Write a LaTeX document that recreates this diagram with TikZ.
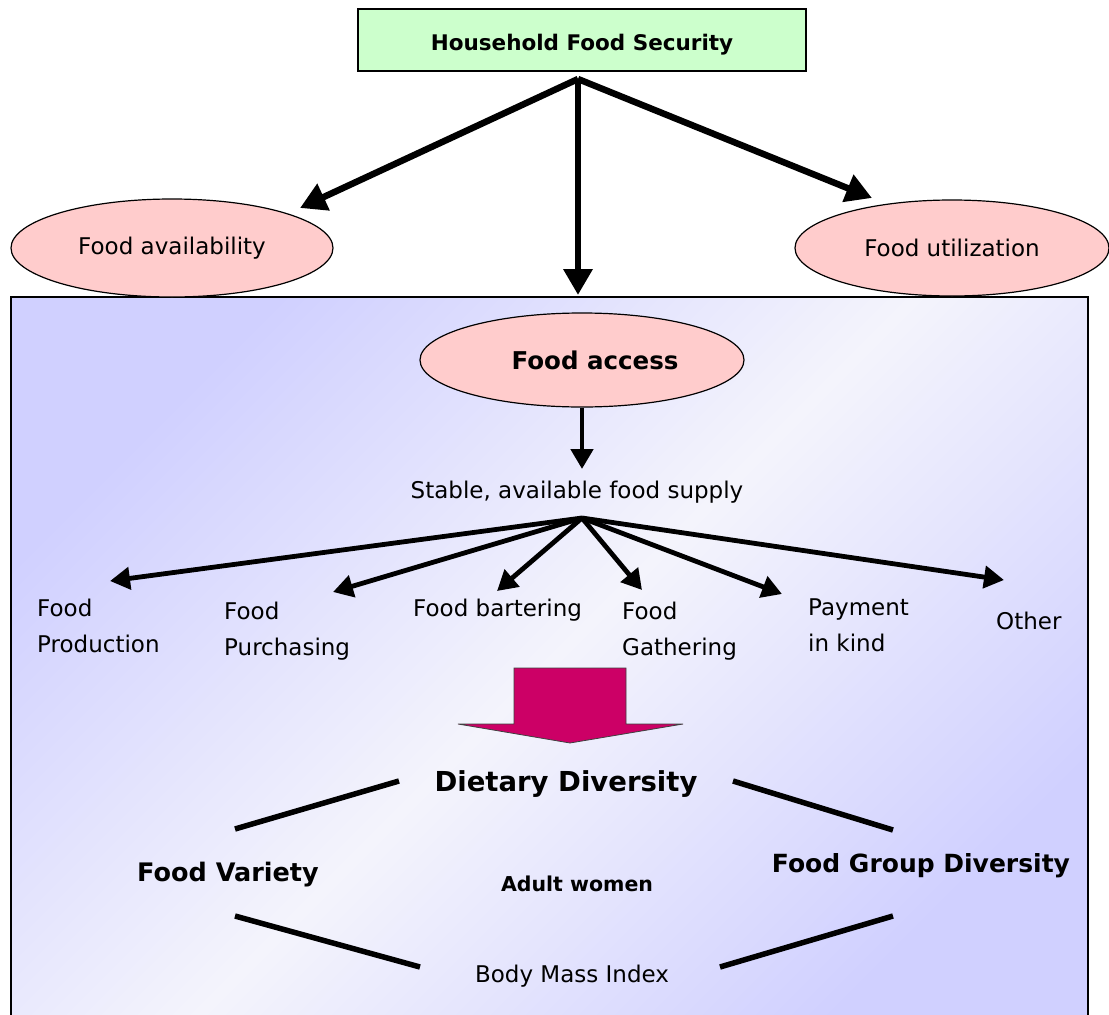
\documentclass[tikz,border=0pt]{standalone}
\usepackage{fontspec}
\setmainfont{DejaVu Sans}
\usetikzlibrary{shapes.geometric,arrows.meta}
\definecolor{hfsgreen}{RGB}{204,255,204}
\definecolor{ovalpink}{RGB}{255,204,204}
\definecolor{boxblue}{RGB}{208,208,255}
\definecolor{boxlight}{RGB}{244,244,252}
\definecolor{blockmag}{RGB}{204,0,102}
\begin{document}
\begin{tikzpicture}[x=1pt,y=-1pt,
  oval/.style={ellipse, draw=black, line width=1.2pt, fill=ovalpink, inner sep=0pt},
  bigarrow/.style={line width=6.5pt, -{Triangle[length=26pt,width=28pt]}},
  fanarrow/.style={line width=4.8pt, -{Triangle[length=20pt,width=22pt]}},
  link/.style={line width=5.5pt},
  lbl/.style={font=\fontsize{23}{36}\selectfont, inner sep=0pt, align=left, anchor=north west},
  plain/.style={font=\fontsize{23}{28}\selectfont, inner sep=0pt},
  boldtxt/.style={font=\fontsize{#1}{#1}\selectfont\bfseries, inner sep=0pt}
]
\useasboundingbox (0,0) rectangle (1109,1015);
\fill[white] (0,0) rectangle (1109,1015);

% big shaded box
\shade[top color=boxblue, bottom color=boxblue, middle color=boxlight, shading angle=45]
  (11,297) rectangle (1088,1030);
\draw[line width=1.2pt] (11,1030) -- (11,297) -- (1088,297) -- (1088,1030);

% top box
\node[draw=black, line width=1.2pt, fill=hfsgreen, minimum width=448pt, minimum height=62pt,
      boldtxt=21.5, text depth=0pt] (hfs) at (582,40) {\raisebox{-4pt}{Household Food Security}};

% ellipses
\node[oval, minimum width=322pt, minimum height=98pt, plain] (avail) at (172,248) {Food availability};
\node[oval, minimum width=314pt, minimum height=96pt, plain] (util) at (952,248) {Food utilization};
\node[oval, minimum width=324pt, minimum height=94pt, boldtxt=24.5] (acc) at (582,360) {\hspace*{26pt}Food access};

% top arrows
\coordinate (hub) at (578,79);
\coordinate (accIn) at (578,295);
\draw[bigarrow] (hub) -- (300,208);
\draw[bigarrow] (hub) -- (872,198);
\draw[bigarrow] (hub) -- (accIn);

% supply
\node[plain] (supply) at (577,492) {Stable, available food supply};
\coordinate (supplyIn) at (582,469);
\draw[fanarrow] (acc.south -| supplyIn) -- (supplyIn);

% fan
\coordinate (fan) at (582,518);
\node[lbl] (prod) at (37,599) {Food\\Production};
\node[lbl] (purch) at (224,602) {Food\\Purchasing};
\node[lbl] (barter) at (413,599) {Food bartering};
\node[lbl] (gath) at (622,602) {Food\\Gathering};
\node[lbl] (pay) at (808,599) {Payment\\in kind};
\node[lbl] (other) at (996,612) {Other};
\coordinate (tProd) at (110,581);
\coordinate (tPurch) at (333,592);
\coordinate (tBarter) at (497,591);
\coordinate (tGath) at (642,590);
\coordinate (tPay) at (782,594);
\coordinate (tOther) at (1004,580);
\foreach \t in {tProd,tPurch,tBarter,tGath,tPay,tOther}
  \draw[fanarrow] (fan) -- (\t);

% block arrow
\filldraw[fill=blockmag, draw=black!75, line width=0.8pt]
  (514,668) -- (626,668) -- (626,724) -- (683,724) -- (570,743) -- (458,724) -- (514,724) -- cycle;

% dietary diversity diamond
\node[boldtxt=27.5] (dd) at (566,784) {Dietary Diversity};
\node[boldtxt=25.5] (fv) at (228,875) {Food Variety};
\node[boldtxt=25] (fgd) at (921,866) {Food Group Diversity};
\node[boldtxt=20.5] (aw) at (577,884) {Adult women};
\node[plain] (bmi) at (572,976) {Body Mass Index};

\coordinate (a1) at (235,829); \coordinate (a2) at (399,781);
\coordinate (b1) at (733,781); \coordinate (b2) at (893,830);
\coordinate (c1) at (235,916); \coordinate (c2) at (420,967);
\coordinate (d1) at (720,967); \coordinate (d2) at (893,916);
\draw[link] (a1) -- (a2);
\draw[link] (b1) -- (b2);
\draw[link] (c1) -- (c2);
\draw[link] (d1) -- (d2);
\end{tikzpicture}
\end{document}
